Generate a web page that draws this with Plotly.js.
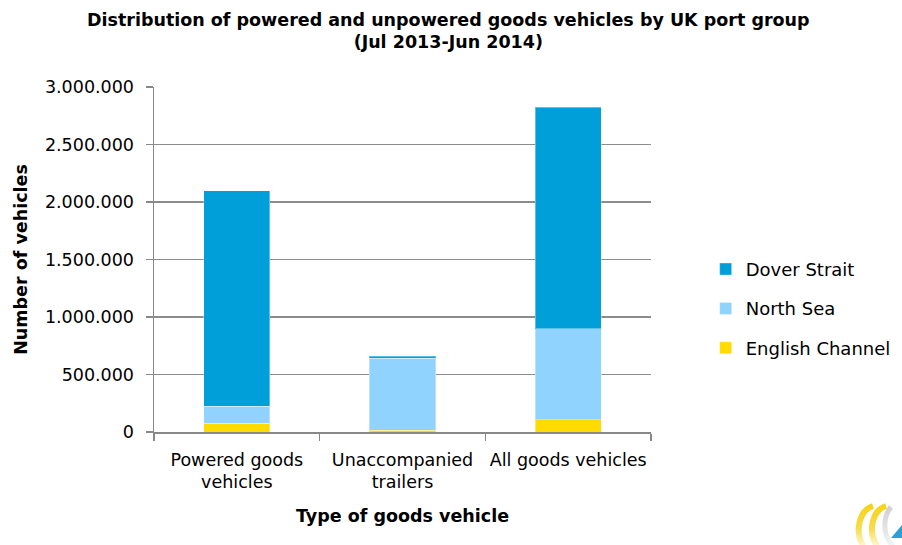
<!DOCTYPE html>
<html><head><meta charset="utf-8">
<script src="https://cdn.plot.ly/plotly-3.0.1.min.js"></script>
<style>html,body{margin:0;padding:0;background:#fff}#chart{width:902px;height:545px}</style>
</head><body><div id="chart"></div>
<script>
const categories = ["Powered goods<br>vehicles", "Unaccompanied<br>trailers", "All goods vehicles"];
const englishChannel = [78000, 15000, 108000];
const northSea = [148000, 625000, 789000];
const doverStrait = [1874000, 17000, 1928000];
const yTicks = [0, 500000, 1000000, 1500000, 2000000, 2500000, 3000000];

const font = "DejaVu Sans, sans-serif";
const traces = [
  {name: "English Channel", y: englishChannel, color: "#FFDB00", rank: 3},
  {name: "North Sea", y: northSea, color: "#8FD3FE", rank: 2},
  {name: "Dover Strait", y: doverStrait, color: "#009FD9", rank: 1}
].map((s, i) => ({
  type: "bar", x: categories, y: s.y, name: s.name, legendgroup: "g" + i, legendrank: s.rank,
  marker: {color: s.color, line: {color: "rgba(255,255,255,0.35)", width: 1}},
  hoverinfo: "skip"
}));

// decorative corner logo
const logoSvg = '<svg xmlns="http://www.w3.org/2000/svg" width="52" height="45" viewBox="0 0 52 45">' +
  '<defs><linearGradient id="yg" x1="0" y1="0" x2="0" y2="1"><stop offset="0" stop-color="#F7D31A"/><stop offset="0.55" stop-color="#F5DC4A"/><stop offset="1" stop-color="#FFF6D0"/></linearGradient>' +
  '<linearGradient id="gg" x1="0" y1="0" x2="0" y2="1"><stop offset="0" stop-color="#d0d0d0"/><stop offset="1" stop-color="#f4f4f4"/></linearGradient></defs>' +
  '<path d="M23 6 C10 10 4 30 13 46" fill="none" stroke="url(#yg)" stroke-width="6"/>' +
  '<path d="M36 6 C23 10 17 30 27 46" fill="none" stroke="url(#yg)" stroke-width="6"/>' +
  '<path d="M41 7 C33 16 32 36 43 46" fill="none" stroke="url(#gg)" stroke-width="5"/>' +
  '<polygon points="52,25 52,38 41,38" fill="#2C9FD8"/></svg>';

const layout = {
  width: 902, height: 545,
  margin: {l: 154, r: 251, t: 87, b: 113, autoexpand: false},
  barmode: "stack", bargap: 0.6,
  separators: ",.",
  paper_bgcolor: "#fff", plot_bgcolor: "#fff",
  font: {family: font, color: "#000", size: 17},
  title: {text: "<b>Distribution of powered and unpowered goods vehicles by UK port group<br>(Jul 2013-Jun 2014)</b>",
          x: 0.497, xanchor: "center", yref: "container", y: 0.953, yanchor: "middle",
          font: {family: font, size: 17.5, color: "#000"}},
  xaxis: {type: "category", tickson: "boundaries", ticks: "outside", ticklen: 7, tickcolor: "#888", tickwidth: 1.5,
          showline: true, linecolor: "#888", linewidth: 1.5, showgrid: false, ticklabelstandoff: 11, tickangle: 0,
          automargin: false,
          tickfont: {family: font, size: 17.5},
          title: {text: "<b>Type of goods vehicle</b>", font: {family: font, size: 17.5}, standoff: 18}},
  yaxis: {range: [0, 3000000], tickvals: yTicks, tickformat: ",d", ticks: "outside", ticklen: 7, tickcolor: "#888", tickwidth: 1.5,
          showline: true, linecolor: "#888", linewidth: 1.5, ticklabelstandoff: 8, automargin: false,
          showgrid: true, gridcolor: "#8c8c8c", gridwidth: 1.5, zeroline: false,
          tickfont: {family: font, size: 17.5},
          title: {text: "<b>Number of vehicles</b>", font: {family: font, size: 17.5}, standoff: 13}},
  legend: {x: 1.11, xanchor: "left", y: 0.357, yanchor: "middle", traceorder: "grouped",
           font: {family: font, size: 18}, itemwidth: 30, tracegroupgap: 13},
  images: [{source: "data:image/svg+xml;charset=utf-8," + encodeURIComponent(logoSvg),
            xref: "paper", yref: "paper", x: (850 - 154) / 497, y: (432 - 500) / 345,
            sizex: 52 / 497, sizey: 45 / 345, xanchor: "left", yanchor: "top", sizing: "stretch", layer: "above"}]
};

Plotly.newPlot("chart", traces, layout, {displayModeBar: false, staticPlot: true});
</script></body></html>
